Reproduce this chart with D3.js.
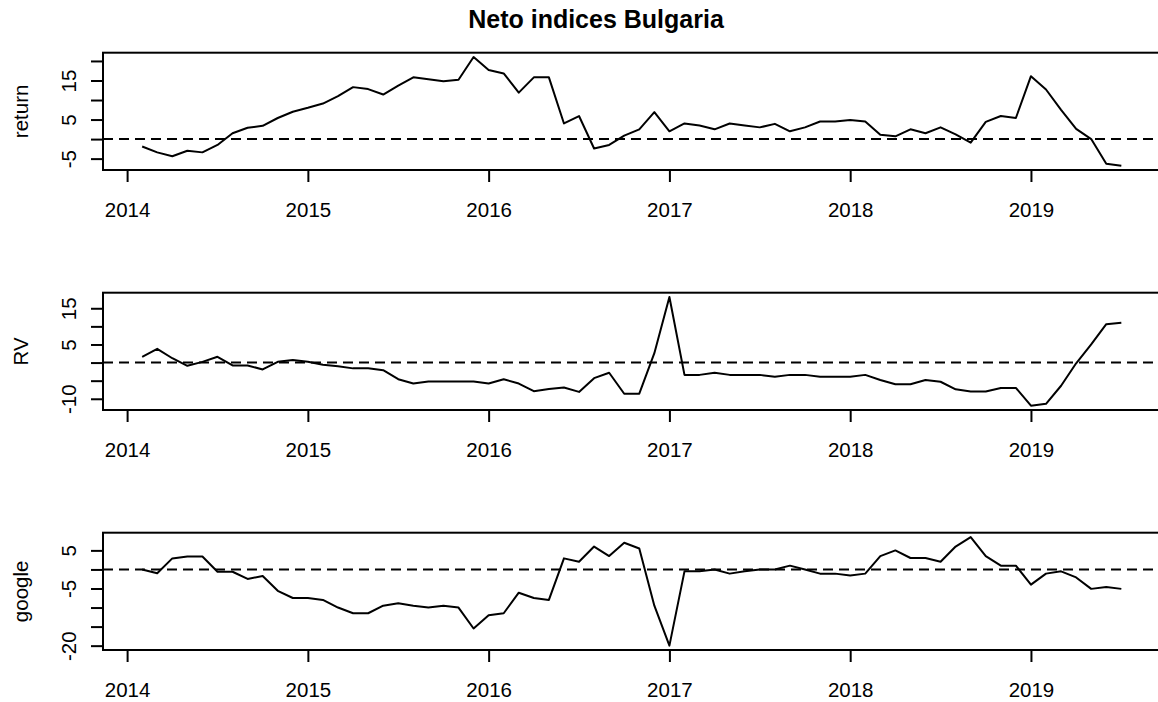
<!DOCTYPE html>
<html><head><meta charset="utf-8">
<script src="https://cdn.jsdelivr.net/npm/d3@7"></script>
<style>
html,body{margin:0;padding:0;background:#fff;}
svg{display:block;font-family:"Liberation Sans",Arial,Helvetica,sans-serif;}
</style></head><body>
<svg id="chart" width="1158" height="702"></svg>
<script>
const chartTitle = "Neto indices Bulgaria";
const seriesNames = ["return", "RV", "google"];
const startYear = 2014, startMonth = 2; // monthly series starting Feb 2014
const returnValues = [-1.9,-3.4,-4.4,-3.0,-3.4,-1.5,1.5,2.9,3.4,5.4,
  7.0,8.0,9.1,11.0,13.3,12.8,11.4,13.7,15.8,15.3,
  14.8,15.2,21.0,17.7,16.8,11.9,15.8,15.8,4.0,5.9,
  -2.4,-1.5,0.9,2.5,6.9,2.0,4.0,3.5,2.5,4.0,
  3.5,3.0,3.9,2.0,3.0,4.5,4.5,4.9,4.5,1.1,
  0.7,2.5,1.5,3.0,1.2,-0.9,4.4,5.9,5.4,16.1,
  12.7,7.5,2.6,0.0,-6.3,-6.8];
const rvValues = [1.6,3.8,1.2,-0.9,0.2,1.6,-0.8,-0.8,-1.9,0.2,
  0.7,0.2,-0.6,-1.0,-1.6,-1.6,-2.1,-4.6,-5.8,-5.2,
  -5.2,-5.2,-5.2,-5.8,-4.6,-5.8,-7.9,-7.3,-6.9,-8.1,
  -4.3,-2.8,-8.6,-8.6,2.6,18.1,-3.4,-3.4,-2.8,-3.4,
  -3.4,-3.4,-3.9,-3.4,-3.4,-3.9,-3.9,-3.9,-3.4,-4.8,
  -6.0,-6.0,-4.8,-5.3,-7.4,-8.0,-8.0,-7.0,-7.0,-11.9,
  -11.4,-6.4,-0.2,5.0,10.6,11.0];
const googleValues = [0.0,-1.0,2.9,3.4,3.4,-0.6,-0.6,-2.5,-1.7,-5.6,
  -7.5,-7.5,-8.0,-10.0,-11.5,-11.5,-9.5,-8.9,-9.5,-10.0,
  -9.5,-10.0,-15.5,-12.0,-11.5,-6.1,-7.5,-8.0,2.9,2.0,
  6.0,3.5,7.0,5.5,-9.5,-20.0,-0.5,-0.5,0.0,-1.1,
  -0.5,0.0,0.0,1.0,0.0,-1.1,-1.1,-1.6,-1.1,3.5,
  5.0,3.0,3.0,2.0,6.0,8.5,3.5,1.0,1.0,-4.0,
  -1.1,-0.5,-2.1,-5.1,-4.6,-5.1];
const yearTicks = [2014, 2015, 2016, 2017, 2018, 2019];
const returnTicks = [-5, 0, 5, 10, 15, 20];
const returnTickLabels = ["-5", "", "5", "", "15", ""];
const rvTicks = [-10, -5, 0, 5, 10, 15];
const rvTickLabels = ["-10", "", "", "5", "", "15"];
const googleTicks = [-20, -15, -10, -5, 0, 5];
const googleTickLabels = ["-20", "", "", "-5", "", "5"];

const panels = [
  {name: seriesNames[0], values: returnValues, ticks: returnTicks, labels: returnTickLabels},
  {name: seriesNames[1], values: rvValues, ticks: rvTicks, labels: rvTickLabels},
  {name: seriesNames[2], values: googleValues, ticks: googleTicks, labels: googleTickLabels}
];

const svg = d3.select("#chart");
const left = 103, right = 1160.5;
const panelTops = [52.7, 292.7, 532.7], panelH = 117.3;
const fs = 20.5;

const times = returnValues.map((_, i) => startYear + (startMonth - 1 + i) / 12);
const tExt = d3.extent(times), tPad = (tExt[1] - tExt[0]) * 0.04;
const x = d3.scaleLinear().domain([tExt[0] - tPad, tExt[1] + tPad]).range([left, right]);

svg.append("text").attr("x", 596).attr("y", 28.3).attr("text-anchor", "middle")
  .attr("font-weight", "bold").attr("font-size", 25).text(chartTitle);

panels.forEach((p, k) => {
  const top = panelTops[k], bottom = top + panelH;
  const ext = d3.extent(p.values), pad = (ext[1] - ext[0]) * 0.04;
  const y = d3.scaleLinear().domain([ext[0] - pad, ext[1] + pad]).range([bottom, top]);
  const g = svg.append("g");

  // x axis
  const xa = g.append("g").attr("transform", `translate(0,${bottom})`)
    .call(d3.axisBottom(x).tickValues(yearTicks).tickSize(12).tickFormat(d3.format("d")));
  xa.select(".domain").remove();
  xa.selectAll("line").attr("stroke", "#000").attr("stroke-width", 2);
  xa.selectAll("text").attr("y", 46.5).attr("dy", null).attr("font-size", fs)
    .attr("fill", "#000").attr("font-family", null);

  // y axis
  const ya = g.append("g").attr("transform", `translate(${left},0)`)
    .call(d3.axisLeft(y).tickValues(p.ticks).tickSize(12).tickFormat((d, i) => p.labels[i]));
  ya.select(".domain").remove();
  ya.selectAll("line").attr("stroke", "#000").attr("stroke-width", 2);
  ya.selectAll("text").attr("x", null).attr("dy", null).attr("y", null)
    .attr("text-anchor", "middle").attr("transform", "translate(-27,0) rotate(-90)")
    .attr("font-size", fs).attr("fill", "#000").attr("font-family", null);

  // y label
  g.append("text").attr("transform", `translate(28.3,${top + panelH / 2}) rotate(-90)`)
    .attr("text-anchor", "middle").attr("font-size", fs).text(p.name);

  // zero dashed line
  g.append("line").attr("x1", left).attr("x2", right).attr("y1", y(0)).attr("y2", y(0))
    .attr("stroke", "#000").attr("stroke-width", 2).attr("stroke-dasharray", "10,6");

  // series line
  const data = p.values.map((v, i) => ({t: times[i], v}));
  g.append("path").datum(data).attr("fill", "none").attr("stroke", "#000")
    .attr("stroke-width", 2).attr("stroke-linejoin", "round")
    .attr("d", d3.line().x(d => x(d.t)).y(d => y(d.v)));

  // box
  g.append("rect").attr("x", left).attr("y", top).attr("width", right - left).attr("height", panelH)
    .attr("fill", "none").attr("stroke", "#000").attr("stroke-width", 2);
});
</script>
</body></html>
